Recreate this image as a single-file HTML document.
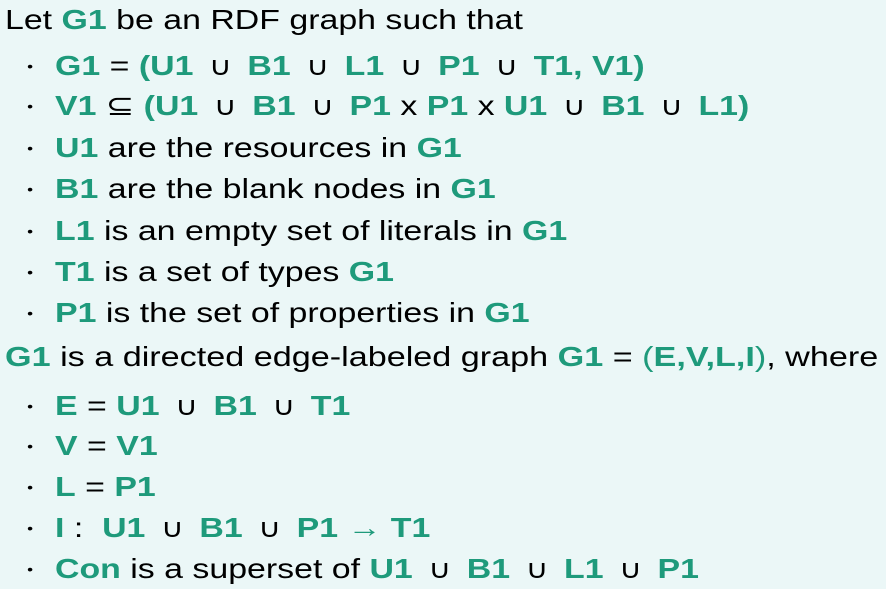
<!DOCTYPE html>
<html><head><meta charset="utf-8"><style>
body{margin:0;width:886px;height:584px;background:#ebf7f7;overflow:hidden;font-family:"Liberation Sans",Arial,sans-serif;font-size:28px;color:#000;position:relative}
.l{position:absolute;left:5px;height:40px;line-height:40px;white-space:nowrap;transform:scaleX(1.21);transform-origin:0 0}
.b{left:55px}
.b::before{content:"•";position:absolute;left:-23px;font-size:14px;}
g{color:#1e9a7b;font-weight:bold}
s{text-decoration:none;font-weight:normal;color:#000;font-size:26px;padding:0 5px}
</style></head><body>
<div class="l" style="top:0">Let <g>G1</g> be an RDF graph such that</div>
<div class="l b" style="top:46px"><g>G1</g> = <g>(U1</g> <s>∪</s> <g>B1</g> <s>∪</s> <g>L1</g> <s>∪</s> <g>P1</g> <s>∪</s> <g>T1, V1)</g></div>
<div class="l b" style="top:86px"><g>V1</g> ⊆ <g>(U1</g> <s>∪</s> <g>B1</g> <s>∪</s> <g>P1</g> x <g>P1</g> x <g>U1</g> <s>∪</s> <g>B1</g> <s>∪</s> <g>L1)</g></div>
<div class="l b" style="top:128px"><g>U1</g> are the resources in <g>G1</g></div>
<div class="l b" style="top:169px"><g>B1</g> are the blank nodes in <g>G1</g></div>
<div class="l b" style="top:211px"><g>L1</g> is an empty set of literals in <g>G1</g></div>
<div class="l b" style="top:252px"><g>T1</g> is a set of types <g>G1</g></div>
<div class="l b" style="top:293px"><g>P1</g> is the set of properties in <g>G1</g></div>
<div class="l" style="top:337px;transform:scaleX(1.22)"><g>G1</g> is a directed edge-labeled graph <g>G1</g> = <g style="font-weight:normal">(<b>E,V,L,I</b>)</g>, where</div>
<div class="l b" style="top:386px"><g>E</g> = <g>U1</g> <s>∪</s> <g>B1</g> <s>∪</s> <g>T1</g></div>
<div class="l b" style="top:426px"><g>V</g> = <g>V1</g></div>
<div class="l b" style="top:467px"><g>L</g> = <g>P1</g></div>
<div class="l b" style="top:508px"><g>I</g> :&nbsp; <g>U1</g> <s>∪</s> <g>B1</g> <s>∪</s> <g>P1</g> <g style="font-weight:normal">→</g> <g>T1</g></div>
<div class="l b" style="top:549px"><g>Con</g> is a superset of <g>U1</g> <s>∪</s> <g>B1</g> <s>∪</s> <g>L1</g> <s>∪</s> <g>P1</g></div>
</body></html>
